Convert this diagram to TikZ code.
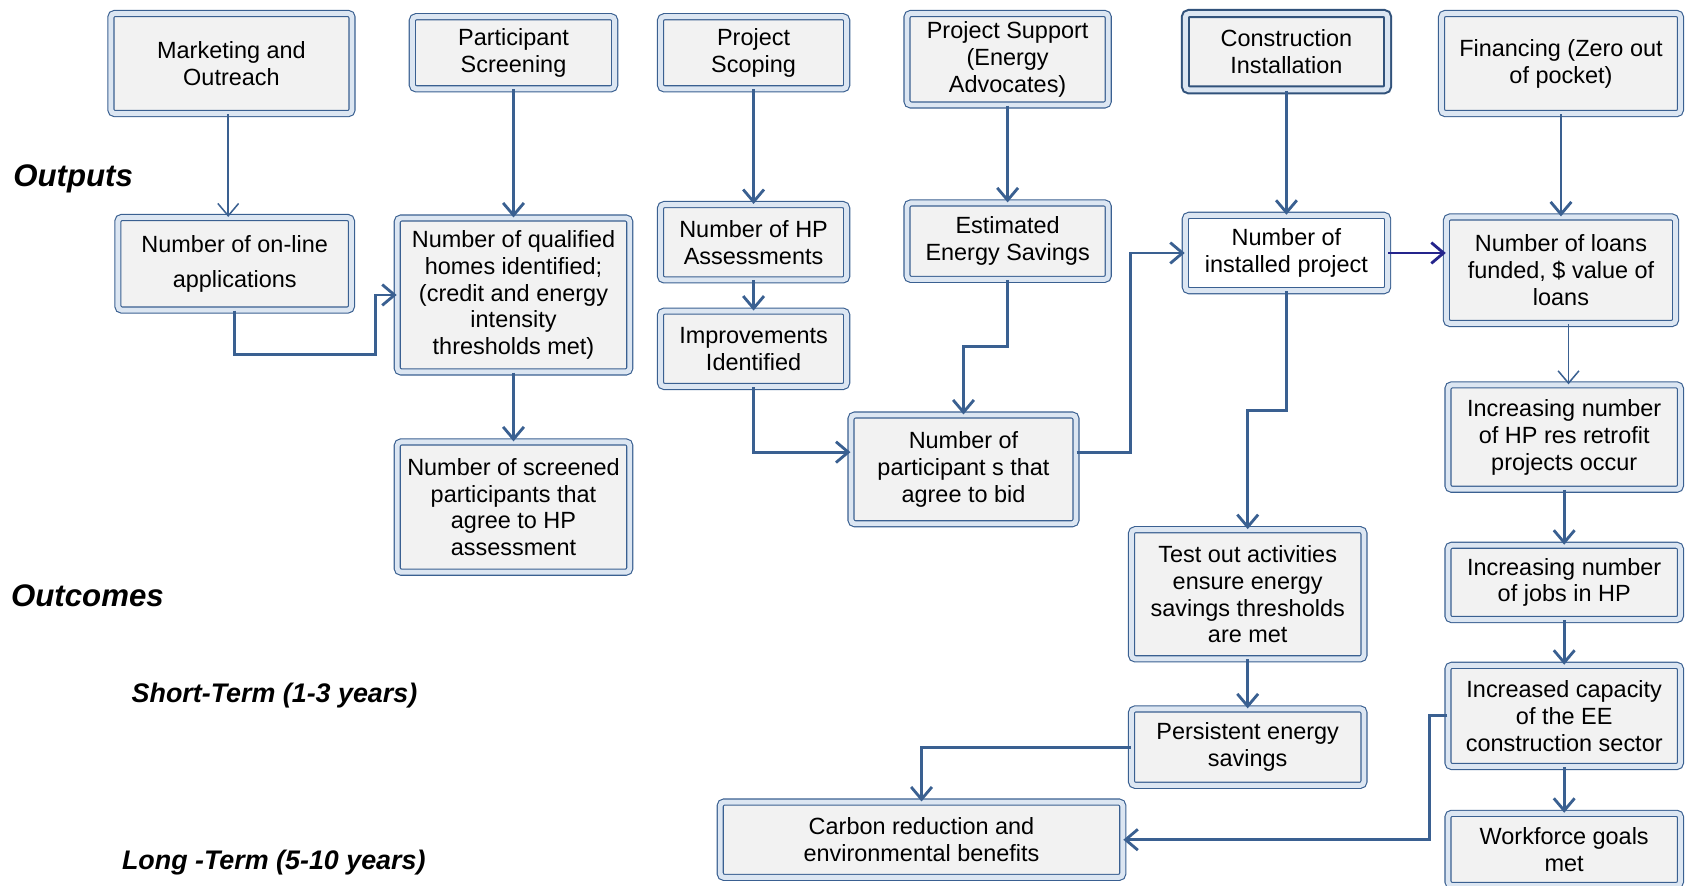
\documentclass[tikz,border=0pt]{standalone}
\usepackage{fontspec}
\setmainfont{Liberation Sans}
\usepackage{xcolor}
\usepackage{tikz}
\usetikzlibrary{arrows.meta, calc}
\definecolor{lineBlue}{RGB}{58,96,145}
\definecolor{boxBand}{RGB}{220,230,242}
\definecolor{boxFill}{RGB}{242,242,242}
\definecolor{navyArrow}{RGB}{36,36,140}
\newcommand{\boxfont}{\fontsize{12.4}{14.2}\selectfont}
\tikzset{
  flowbox/.style={draw=lineBlue, line width=0.6pt, double=boxBand, double distance=2.6pt,
    fill=boxFill, rounded corners=2pt, align=center, inner sep=0pt, font=\boxfont},
  keybox/.style={flowbox, line width=1.1pt, draw=lineBlue!85!black},
  flowarrow/.style={draw=lineBlue, line width=1.5pt, -{Straight Barb[length=6.5pt,width=11pt]}},
  thinarrow/.style={flowarrow, line width=0.8pt},
  sidelabel/.style={anchor=west, inner sep=0pt, font=\bfseries\itshape}
}

\begin{document}
\begin{tikzpicture}[x=0.02cm, y=-0.02cm]

  \useasboundingbox (0,0) rectangle (1568,823);

  % inputs
  \node[flowbox, minimum width=4.48cm, minimum height=1.86cm] (mkt) at (215,59) {Marketing and\\Outreach};
  \node[flowbox, minimum width=3.76cm, minimum height=1.34cm] (screen) at (477,49) {Participant\\Screening};
  \node[flowbox, minimum width=3.46cm, minimum height=1.34cm] (scope) at (700,49) {Project\\Scoping};
  \node[flowbox, minimum width=3.74cm, minimum height=1.70cm] (support) at (936,55) {Project Support\\(Energy\\Advocates)};
  \node[keybox, minimum width=3.76cm, minimum height=1.42cm] (constr) at (1195,48) {Construction\\Installation};
  \node[flowbox, minimum width=4.44cm, minimum height=1.86cm] (finance) at (1450,59) {Financing (Zero out\\of pocket)};

  % outputs
  \node[flowbox, minimum width=4.34cm, minimum height=1.72cm] (online) at (218,245) {Number of on-line\\[4pt]applications};
  \node[flowbox, minimum width=4.32cm, minimum height=2.86cm] (qualified) at (477,274) {Number of qualified\\homes identified;\\(credit and energy\\intensity\\thresholds met)};
  \node[flowbox, minimum width=3.46cm, minimum height=1.40cm] (hpassess) at (700,225) {Number of HP\\Assessments};
  \node[flowbox, minimum width=3.74cm, minimum height=1.42cm] (estsave) at (936,224) {Estimated\\Energy Savings};
  \node[flowbox, fill=white, minimum width=3.76cm, minimum height=1.40cm] (installed) at (1195,235) {Number of\\installed project};
  \node[flowbox, minimum width=4.26cm, minimum height=1.98cm] (loans) at (1450,251) {Number of loans\\funded, \$ value of\\loans};
  \node[flowbox, minimum width=3.46cm, minimum height=1.40cm] (improve) at (700,324) {Improvements\\Identified};
  \node[flowbox, minimum width=4.18cm, minimum height=2.02cm] (bid) at (895,436) {Number of\\participant s that\\agree to bid};
  \node[flowbox, minimum width=4.32cm, minimum height=2.42cm] (screened) at (477,471) {Number of screened\\participants that\\agree to HP\\assessment};

  % outcomes
  \node[flowbox, minimum width=4.32cm, minimum height=1.94cm] (retrofit) at (1453,406) {Increasing number\\of HP res retrofit\\projects occur};
  \node[flowbox, minimum width=4.32cm, minimum height=2.40cm] (testout) at (1159,552) {Test out activities\\ensure energy\\savings thresholds\\are met};
  \node[flowbox, minimum width=4.32cm, minimum height=1.38cm] (jobs) at (1453,541) {Increasing number\\of jobs in HP};
  \node[flowbox, minimum width=4.32cm, minimum height=1.42cm] (persist) at (1159,694) {Persistent energy\\savings};
  \node[flowbox, minimum width=4.32cm, minimum height=1.88cm] (capacity) at (1453,665) {Increased capacity\\of the EE\\construction sector};
  \node[flowbox, minimum width=7.48cm, minimum height=1.40cm] (carbon) at (856,780) {Carbon reduction and\\environmental benefits};
  \node[flowbox, minimum width=4.32cm, minimum height=1.34cm] (workforce) at (1453,789) {Workforce goals\\met};

  \node[sidelabel, font=\fontsize{16.5}{18}\selectfont\bfseries\itshape] (outputs) at (12,166) {Outputs};
  \node[sidelabel, font=\fontsize{16.5}{18}\selectfont\bfseries\itshape] (outcomes) at (10,553) {Outcomes};
  \node[sidelabel, font=\fontsize{14.2}{16}\selectfont\bfseries\itshape] (shortterm) at (122,646) {Short-Term (1-3 years)};
  \node[sidelabel, font=\fontsize{14.2}{16}\selectfont\bfseries\itshape] (longterm) at (113,801) {Long -Term (5-10 years)};

  \draw[thinarrow] (mkt.south -| 212,0) -- (online.north -| 212,0);
  \draw[flowarrow] (screen) -- (qualified);
  \draw[flowarrow] (online.south) |- (349,329) |- (qualified.west);
  \draw[flowarrow] (qualified) -- (screened);

  \draw[flowarrow] (scope) -- (hpassess);
  \draw[flowarrow] (hpassess) -- (improve);
  \draw[flowarrow] (improve.south) |- (bid.west |- 0,420);

  \draw[flowarrow] (support) -- (estsave);
  \draw[flowarrow] (estsave.south) |- (bid.north |- 0,322) -- (bid.north);
  \draw[flowarrow] (bid.east |- 0,420) -| (installed.west -| 1050,0) -- (installed.west);

  \draw[flowarrow] (constr) -- (installed);
  \draw[flowarrow, draw=navyArrow] (installed.east) -- (installed.east -| loans.west);
  \draw[flowarrow] (installed.south) |- (testout.north |- 0,381) -- (testout.north);
  \draw[flowarrow] (testout) -- (persist);
  \draw[flowarrow] (persist.west) -| (carbon.north);

  \draw[flowarrow] (finance.south) -- (loans.north);
  \draw[thinarrow] (loans.south -| 1457,0) -- (retrofit.north -| 1457,0);
  \draw[flowarrow] (retrofit) -- (jobs);
  \draw[flowarrow] (jobs) -- (capacity);
  \draw[flowarrow] (capacity) -- (workforce);
  \draw[flowarrow] (capacity.west) -| (1328,0 |- carbon.east) -- (carbon.east);

\end{tikzpicture}
\end{document}
